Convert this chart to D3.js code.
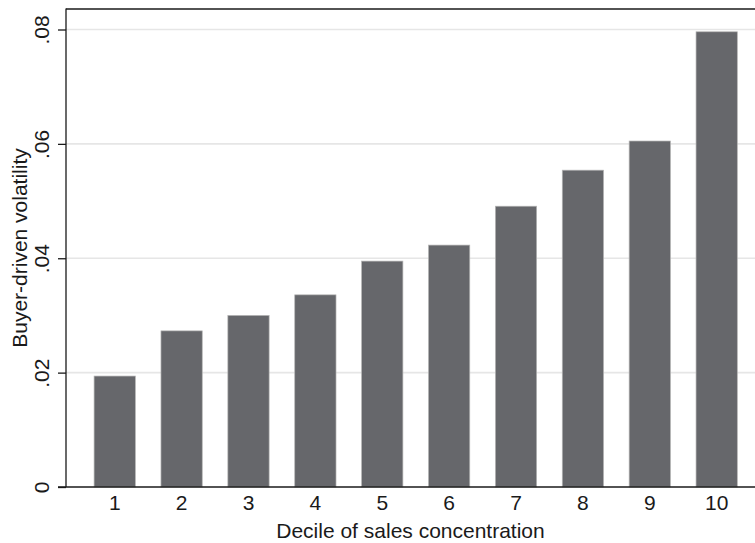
<!DOCTYPE html>
<html>
<head>
<meta charset="utf-8">
<script src="https://d3js.org/d3.v7.min.js"></script>
<style>
  html, body { margin: 0; padding: 0; background: #fff; }
  svg { display: block; }
  text { font-family: "Liberation Sans", Arial, sans-serif; fill: #1a1a1a; }
</style>
</head>
<body>
<svg id="chart" width="755" height="543"></svg>
<script>
const categories = ["1", "2", "3", "4", "5", "6", "7", "8", "9", "10"];
const values = [0.0194, 0.0273, 0.0300, 0.0336, 0.0395, 0.0423, 0.0491, 0.0554, 0.0605, 0.0796];
const yTicks = [0, 0.02, 0.04, 0.06, 0.08];
const yTickLabels = ["0", ".02", ".04", ".06", ".08"];
const xTitle = "Decile of sales concentration";
const yTitle = "Buyer-driven volatility";

(function () {
const svg = d3.select("#chart");
const W = 755;
const pLeft = 66, pTop = 9, pRight = 765.4, pBottom = 487;
const FS = "21px";

const x = d3.scaleBand()
  .domain(categories)
  .range([pLeft, pRight])
  .paddingInner(0.383)
  .paddingOuter(0.42);

const y = d3.scaleLinear().domain([0, 0.08]).range([pBottom, 29.5]);

// gridlines
svg.append("g")
  .selectAll("line")
  .data(yTicks.filter(d => d > 0))
  .join("line")
  .attr("x1", pLeft).attr("x2", W)
  .attr("y1", d => y(d)).attr("y2", d => y(d))
  .attr("stroke", "#e6e6e6").attr("stroke-width", 1.6);

// bars
svg.append("g")
  .selectAll("rect")
  .data(values)
  .join("rect")
  .attr("x", (d, i) => x(categories[i]))
  .attr("width", x.bandwidth())
  .attr("y", d => y(d))
  .attr("height", d => y(0) - y(d))
  .attr("fill", "#66676b")
  .attr("stroke", "#b4b4b4")
  .attr("stroke-width", 0.7);

// frame top
svg.append("line")
  .attr("x1", pLeft).attr("x2", W).attr("y1", pTop).attr("y2", pTop)
  .attr("stroke", "#1a1a1a").attr("stroke-width", 1.3);

// y axis
const yAxis = d3.axisLeft(y)
  .tickValues(yTicks)
  .tickFormat((d, i) => yTickLabels[i])
  .tickSize(8)
  .tickSizeOuter(0)
  .tickPadding(0);
const gy = svg.append("g").attr("transform", `translate(${pLeft},0)`).call(yAxis);
gy.select(".domain").remove();
gy.selectAll(".tick line").attr("stroke", "#1a1a1a").attr("stroke-width", 1.3);
gy.selectAll(".tick text")
  .attr("transform", "rotate(-90)")
  .attr("x", 0).attr("y", -17)
  .attr("dy", "0")
  .attr("text-anchor", "middle")
  .style("font-size", FS)
  .style("font-family", "Liberation Sans, Arial, sans-serif")
  .attr("fill", "#1a1a1a");
svg.append("line")
  .attr("x1", pLeft).attr("x2", pLeft).attr("y1", pTop - 0.6).attr("y2", pBottom)
  .attr("stroke", "#1a1a1a").attr("stroke-width", 1.3);

// x axis
const xAxis = d3.axisBottom(x).tickSize(0).tickSizeOuter(0).tickPadding(8);
const gx = svg.append("g").attr("transform", `translate(0,${pBottom})`).call(xAxis);
gx.select(".domain").remove();
gx.selectAll(".tick text")
  .style("font-size", FS)
  .style("font-family", "Liberation Sans, Arial, sans-serif")
  .attr("fill", "#1a1a1a");
svg.append("line")
  .attr("x1", pLeft - 8).attr("x2", W).attr("y1", pBottom).attr("y2", pBottom)
  .attr("stroke", "#1a1a1a").attr("stroke-width", 1.3);

// titles
svg.append("text")
  .attr("x", (pLeft + W) / 2).attr("y", 538)
  .attr("text-anchor", "middle")
  .style("font-size", FS)
  .text(xTitle);

svg.append("text")
  .attr("transform", `translate(27,${(pTop + pBottom) / 2}) rotate(-90)`)
  .attr("text-anchor", "middle")
  .style("font-size", FS)
  .text(yTitle);
})();
</script>
</body>
</html>
